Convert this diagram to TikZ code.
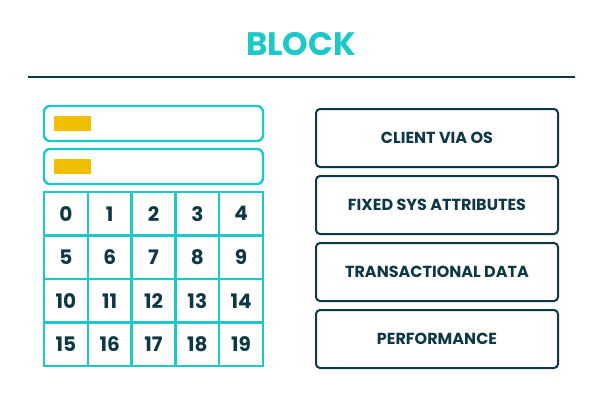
\documentclass[tikz,border=0pt]{standalone}
\usepackage{fontspec}
\setmainfont{Poppins}
\usetikzlibrary{positioning}

\definecolor{blockteal}{HTML}{1CC8C8}
\definecolor{blockdark}{HTML}{0E3846}
\definecolor{blockyellow}{HTML}{F2BE00}

\begin{document}
\begin{tikzpicture}[x=1pt, y=-1pt,
	bar/.style={draw=blockteal, line width=2.4pt, rounded corners=6pt, minimum width=219pt, minimum height=35pt, inner sep=0pt},
	tag/.style={fill=blockyellow, minimum width=37pt, minimum height=15pt, inner sep=0pt},
	cell/.style={draw=blockteal, line width=2.4pt, minimum width=43.8pt, minimum height=43.5pt, inner sep=0pt, text=blockdark, font=\fontsize{20}{20}\selectfont\bfseries},
	field/.style={draw=blockdark, line width=2pt, rounded corners=4pt, minimum width=242pt, minimum height=58pt, inner sep=0pt, text=blockdark, font=\fontsize{16}{17}\selectfont\bfseries}]

	\useasboundingbox (0,0) rectangle (602,412);

	% title and rule
	\node[text=blockteal, font=\fontsize{32.5}{33}\selectfont\bfseries] (title) at (301,44) {BLOCK};
	\coordinate (ruleL) at (28,77);
	\coordinate (ruleR) at (575,77);
	\draw[blockdark, line width=2pt] (ruleL) -- (ruleR);

	% left side
	\node[bar] (bar1) at (153.5,123.5) {};
	\node[bar] (bar2) at (153.5,166.5) {};
	\node[tag, right=10.5pt of bar1.west] (tag1) {};
	\node[tag, right=10.5pt of bar2.west] (tag2) {};

	\foreach \n in {0,...,19} {
		\pgfmathtruncatemacro{\col}{mod(\n,5)}
		\pgfmathtruncatemacro{\row}{div(\n,5)}
		\node[cell] (c\n) at ({44+43.8*(\col+0.5)},{192+43.5*(\row+0.5)}) {\n};
	}

	% right side
	\node[field] (client) at (437,138) {CLIENT VIA OS};
	\node[field] (fixed) at (437,205) {FIXED SYS ATTRIBUTES};
	\node[field] (trans) at (437,272) {TRANSACTIONAL DATA};
	\node[field] (perf) at (437,339) {PERFORMANCE};

\end{tikzpicture}
\end{document}
